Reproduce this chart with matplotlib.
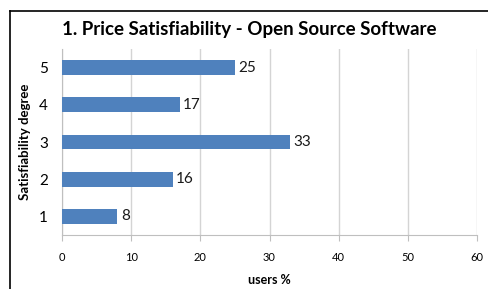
import matplotlib
matplotlib.use("Agg")
import matplotlib.pyplot as plt
from matplotlib.lines import Line2D

# data
degrees = ["1", "2", "3", "4", "5"]
users_pct = [8, 16, 33, 17, 25]
x_ticks = [0, 10, 20, 30, 40, 50, 60]

plt.rcParams['font.family'] = ['Lato', 'DejaVu Sans']

fig = plt.figure(figsize=(4.88, 2.89), dpi=100)
ax = fig.add_axes([62/488, 1 - 235/289, (477-62)/488, (235-49)/289])

bar_color = '#4f81bd'
ypos = range(len(degrees))
ax.barh(ypos, users_pct, height=0.4, color=bar_color, zorder=3)

# value labels
for y, v in zip(ypos, users_pct):
    ax.text(v + 0.5, y, str(v), va='center', ha='left', fontsize=11, color='#1a1a1a')

ax.set_xlim(0, 60)
ax.set_ylim(-0.5, len(degrees) - 0.5)
ax.set_xticks(x_ticks)
ax.set_yticks(list(ypos))
ax.set_yticklabels(degrees, fontsize=11)
ax.tick_params(axis='x', labelsize=8, length=4, color='#bfbfbf', pad=8)
ax.tick_params(axis='y', length=0, pad=10)
ax.grid(axis='x', color='#d4d4d4', linewidth=1, zorder=0)

for s in ['top', 'right']:
    ax.spines[s].set_visible(False)
for s in ['left', 'bottom']:
    ax.spines[s].set_color('#bfbfbf')

ax.set_xlabel('users %', fontsize=9, fontweight='bold', labelpad=8)
ax.set_ylabel('Satisfiability degree', fontsize=9.5, fontweight='bold', labelpad=6)

fig.text(0.511, 1 - 30/289, '1. Price Satisfiability - Open Source Software',
         ha='center', va='center', fontsize=13.5, fontweight='bold')

# chart border (left and top edges)
fig.add_artist(Line2D([10/488, 10/488], [0, 1 - 11/289], color='black', lw=1.2,
                      transform=fig.transFigure))
fig.add_artist(Line2D([10/488, 1], [1 - 11/289, 1 - 11/289], color='black', lw=1.2,
                      transform=fig.transFigure))

fig.savefig('out.png', dpi=100)
